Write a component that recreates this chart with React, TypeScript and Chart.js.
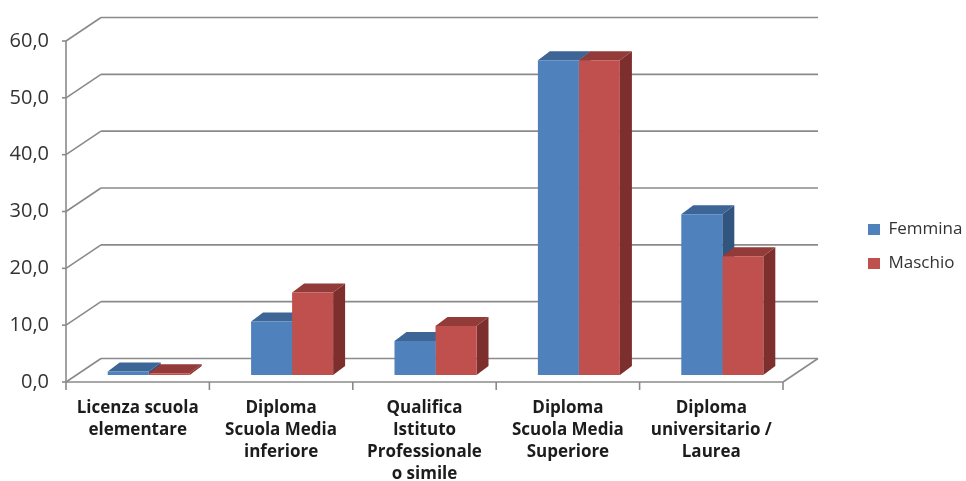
import React, { useEffect, useRef } from 'react';
import { Chart, registerables } from 'chart.js';

Chart.register(...registerables);

// Titolo di studio per genere (%)
const categories: string[][] = [
  ['Licenza scuola', 'elementare'],
  ['Diploma', 'Scuola Media', 'inferiore'],
  ['Qualifica', 'Istituto', 'Professionale', 'o simile'],
  ['Diploma', 'Scuola Media', 'Superiore'],
  ['Diploma', 'universitario /', 'Laurea'],
];
const seriesNames = ['Femmina', 'Maschio'];
const femmina = [0.6, 9.4, 6.0, 55.4, 28.3];
const maschio = [0.3, 14.5, 8.6, 55.4, 20.9];
const yMin = 0;
const yMax = 60;
const yStep = 10;

const FONT = "'Open Sans', 'Noto Sans', sans-serif";
const frontColors = ['#4F81BD', '#C0504D'];
const topColors = ['#3D6596', '#923B39'];
const sideColors = ['#31557F', '#7D2F2D'];
const GRID = '#8a8a8a';

// Offsets of the front plane, back wall and bar depth relative to the bar plane
const FRONT = { dx: -11, dy: 7 };
const BACK = { dx: 24, dy: -16.5 };
const BAR_DEPTH = { dx: 12, dy: -9 };

const line = (ctx: CanvasRenderingContext2D, x1: number, y1: number, x2: number, y2: number) => {
  ctx.beginPath();
  ctx.moveTo(x1, y1);
  ctx.lineTo(x2, y2);
  ctx.stroke();
};

const poly = (ctx: CanvasRenderingContext2D, pts: number[][], color: string) => {
  ctx.beginPath();
  ctx.moveTo(pts[0][0], pts[0][1]);
  for (let i = 1; i < pts.length; i++) ctx.lineTo(pts[i][0], pts[i][1]);
  ctx.closePath();
  ctx.fillStyle = color;
  ctx.fill();
};

// Walls, floor and the depth faces of the bars
const frame3d = {
  id: 'frame3d',
  beforeDatasetsDraw(chart: any) {
    const { ctx, chartArea: a, scales } = chart;
    const y = scales.y;
    const x = scales.x;
    ctx.save();
    ctx.strokeStyle = GRID;
    ctx.lineWidth = 1.6;
    ctx.lineCap = 'butt';

    const fl = a.left + FRONT.dx;
    const fr = a.right + FRONT.dx;
    const bl = a.left + BACK.dx;
    const br = a.right + BACK.dx;

    for (let v = yMin; v <= yMax; v += yStep) {
      const py = y.getPixelForValue(v);
      line(ctx, bl, py + BACK.dy, br, py + BACK.dy);
      line(ctx, fl, py + FRONT.dy, bl, py + BACK.dy);
      line(ctx, fl - 4, py + FRONT.dy, fl, py + FRONT.dy);
    }
    const y0 = y.getPixelForValue(yMin);
    const yTop = y.getPixelForValue(yMax);
    // value axis
    line(ctx, fl, yTop + FRONT.dy, fl, y0 + FRONT.dy);
    // floor front edge and right edge
    line(ctx, fl, y0 + FRONT.dy, fr, y0 + FRONT.dy);
    line(ctx, fr, y0 + FRONT.dy, br, y0 + BACK.dy);
    // category separators
    for (let i = 0; i <= categories.length; i++) {
      const px = x.getPixelForValue(i - 0.5) + FRONT.dx;
      line(ctx, px, y0 + FRONT.dy, px, y0 + FRONT.dy + 8);
    }

    // bar tops and sides
    chart.data.datasets.forEach((_: any, di: number) => {
      const meta = chart.getDatasetMeta(di);
      meta.data.forEach((bar: any) => {
        const { x: cx, y: top, base, width } = bar.getProps(['x', 'y', 'base', 'width'], true);
        const l = cx - width / 2;
        const r = cx + width / 2;
        const { dx, dy } = BAR_DEPTH;
        poly(ctx, [[r, top], [r + dx, top + dy], [r + dx, base + dy], [r, base]], sideColors[di]);
        poly(ctx, [[l, top], [r, top], [r + dx, top + dy], [l + dx, top + dy]], topColors[di]);
      });
    });
    ctx.restore();
  },
};

export default function App() {
  const canvasRef = useRef<HTMLCanvasElement | null>(null);

  useEffect(() => {
    const canvas = canvasRef.current;
    if (!canvas) return;
    const hidden = {
      display: true,
      grid: { display: false, drawTicks: false },
      border: { display: false },
      ticks: { display: false },
    };
    const chart = new Chart(canvas, {
      type: 'bar',
      data: {
        labels: categories,
        datasets: [
          { label: seriesNames[0], data: femmina, backgroundColor: frontColors[0], borderWidth: 0, xAxisID: 'x', yAxisID: 'y' },
          { label: seriesNames[1], data: maschio, backgroundColor: frontColors[1], borderWidth: 0, xAxisID: 'x', yAxisID: 'y' },
        ],
      },
      options: {
        responsive: false,
        animation: false,
        devicePixelRatio: 1,
        datasets: { bar: { categoryPercentage: 0.572, barPercentage: 1 } },
        layout: { autoPadding: false, padding: { top: 12, bottom: 0, left: 0, right: 0 } },
        scales: {
          x: {
            grid: { display: false, drawTicks: false },
            border: { display: false },
            ticks: {
              padding: 22,
              labelOffset: FRONT.dx,
              maxRotation: 0,
              minRotation: 0,
              autoSkip: false,
              color: '#1c1c1c',
              font: { family: FONT, size: 17, weight: 'bold', lineHeight: 1.3 },
            },
            afterFit: (s: any) => { s.height = 106; s.paddingLeft = 0; s.paddingRight = 0; },
          },
          y: {
            min: yMin,
            max: yMax,
            grid: { display: false, drawTicks: false },
            border: { display: false },
            ticks: {
              stepSize: yStep,
              padding: 28,
              labelOffset: FRONT.dy,
              color: '#333333',
              font: { family: FONT, size: 20 },
              callback: (v: any) => Number(v).toFixed(1).replace('.', ','),
            },
            afterFit: (s: any) => { s.width = 77; s.paddingTop = 0; s.paddingBottom = 0; },
          },
          gapTop: {
            type: 'linear',
            position: 'top',
            ...hidden,
            afterFit: (s: any) => { s.height = 22; },
          },
          gapRight: {
            type: 'linear',
            position: 'right',
            ...hidden,
            afterFit: (s: any) => { s.width = 57; },
          },
        },
        plugins: {
          legend: {
            position: 'right',
            align: 'center',
            maxWidth: 115,
            labels: {
              boxWidth: 12,
              boxHeight: 11,
              padding: 17,
              color: '#333333',
              font: { family: FONT, size: 17 },
            },
          },
          tooltip: { enabled: false },
        },
      },
      plugins: [frame3d],
    } as any);
    return () => chart.destroy();
  }, []);

  return (
    <div style={{ position: 'fixed', left: 0, top: 0, width: 966, height: 481, background: '#ffffff' }}>
      <canvas ref={canvasRef} width={966} height={481} />
    </div>
  );
}
